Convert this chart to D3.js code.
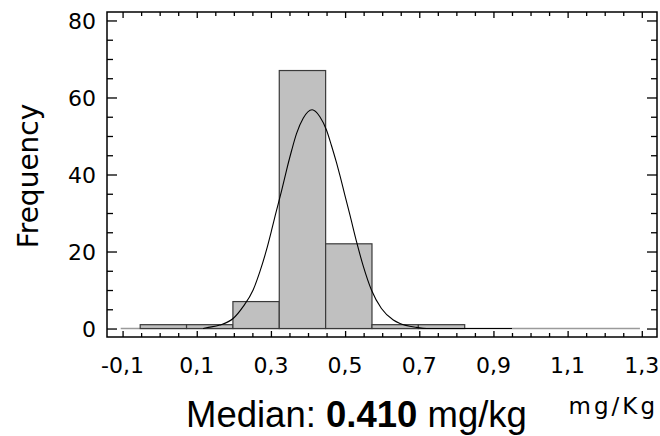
<!DOCTYPE html>
<html>
<head>
<meta charset="utf-8">
<script src="https://cdn.jsdelivr.net/npm/d3@7"></script>
<style>
  body { margin: 0; background: #fff; }
  svg { display: block; }
</style>
</head>
<body>
<svg id="chart" width="660" height="436"></svg>
<script>
// histogram bins (left edge, mg/Kg) and counts
const binStarts = [-0.0525, 0.0725, 0.1975, 0.3225, 0.4475, 0.5725, 0.6975];
const binCounts = [1, 1, 7, 67, 22, 1, 1];
const binWidth = 0.125;
// empty part of the histogram range (drawn as flat line)
const emptyRange = [-0.105, 1.295];

// fitted curve
const curveX = [0.117, 0.126, 0.162, 0.198, 0.225, 0.252, 0.270, 0.288, 0.302, 0.312, 0.329, 0.342,
                0.356, 0.369, 0.387, 0.411, 0.432, 0.450, 0.463, 0.477, 0.486, 0.499, 0.513, 0.531,
                0.549, 0.571, 0.598, 0.630, 0.648, 0.693, 0.72, 0.95];
const curveY = [0.0, 0.2, 0.9, 2.6, 5.7, 10.0, 14.7, 20.4, 25.6, 29.5, 35.9, 41.1,
                46.3, 50.6, 54.6, 56.8, 55.0, 51.5, 47.6, 43.0, 39.8, 34.8, 29.5, 22.5,
                16.2, 10.0, 5.2, 2.2, 1.3, 0.3, 0.0, 0.0];

const xMajor = [-0.1, 0.1, 0.3, 0.5, 0.7, 0.9, 1.1, 1.3];
const xLabels = ["-0,1", "0,1", "0,3", "0,5", "0,7", "0,9", "1,1", "1,3"];
const yMajor = [0, 20, 40, 60, 80];

const svg = d3.select("#chart");
const plotLeft = 107, plotRight = 657, plotTop = 12, plotBottom = 337;

const x = d3.scaleLinear().domain([-0.142, 1.341]).range([plotLeft, plotRight]);
const y = d3.scaleLinear().domain([-2.2, 82.2]).range([plotBottom, plotTop]);

const xMinor = d3.range(0, 29).map(i => -0.1 + i * 0.05);
const yMinor = d3.range(0, 17).map(i => i * 5);

// empty range baseline
svg.append("line")
    .attr("x1", x(emptyRange[0]))
    .attr("x2", x(emptyRange[1]))
    .attr("y1", y(0))
    .attr("y2", y(0))
    .style("stroke", "#9a9a9a")
    .style("stroke-width", 1.5);

// bars
svg.selectAll("rect.bar")
    .data(binStarts)
    .enter()
    .append("rect")
    .attr("class", "bar")
    .attr("x", d => x(d))
    .attr("y", (d, i) => y(binCounts[i]))
    .attr("width", d => x(d + binWidth) - x(d))
    .attr("height", (d, i) => y(0) - y(binCounts[i]))
    .attr("fill", "#c0c0c0")
    .attr("stroke", "#3a3a3a")
    .attr("stroke-width", 1.2);

// curve
const line = d3.line()
    .x(d => x(d[0]))
    .y(d => y(d[1]))
    .curve(d3.curveMonotoneX);
svg.append("path")
    .datum(curveX.map((v, i) => [v, curveY[i]]))
    .attr("d", line)
    .attr("fill", "none")
    .attr("stroke", "#000")
    .attr("stroke-width", 1.1);

// frame
svg.append("rect")
    .attr("x", plotLeft)
    .attr("y", plotTop)
    .attr("width", plotRight - plotLeft)
    .attr("height", plotBottom - plotTop)
    .attr("fill", "none")
    .attr("stroke", "#000")
    .attr("stroke-width", 1.5);

// ticks (all pointing inward)
const isMajorX = v => xMajor.some(m => Math.abs(m - v) < 1e-6);
const isMajorY = v => yMajor.includes(v);

const gB = svg.append("g").attr("transform", `translate(0,${plotBottom})`)
    .call(d3.axisBottom(x).tickValues(xMinor).tickSizeOuter(0).tickFormat(""));
gB.selectAll(".tick line").attr("y2", d => isMajorX(d) ? -6 : -4);

const gT = svg.append("g").attr("transform", `translate(0,${plotTop})`)
    .call(d3.axisTop(x).tickValues(xMinor).tickSizeOuter(0).tickFormat(""));
gT.selectAll(".tick line").attr("y2", d => isMajorX(d) ? 6 : 4);

const gL = svg.append("g").attr("transform", `translate(${plotLeft},0)`)
    .call(d3.axisLeft(y).tickValues(yMinor).tickSizeOuter(0).tickFormat(""));
gL.selectAll(".tick line").attr("x2", d => isMajorY(d) ? 10 : 6);

const gR = svg.append("g").attr("transform", `translate(${plotRight},0)`)
    .call(d3.axisRight(y).tickValues(yMinor).tickSizeOuter(0).tickFormat(""));
gR.selectAll(".tick line").attr("x2", d => isMajorY(d) ? -10 : -6);

svg.selectAll(".domain").remove();
svg.selectAll(".tick line").attr("stroke", "#000").attr("stroke-width", 1.3);

// tick labels
const labelFont = "'DejaVu Sans', sans-serif";
svg.selectAll("text.xl")
    .data(xMajor)
    .enter()
    .append("text")
    .attr("class", "xl")
    .attr("x", d => x(d))
    .attr("y", 373)
    .attr("text-anchor", "middle")
    .style("font-family", labelFont)
    .style("font-size", "22px")
    .text((d, i) => xLabels[i]);

svg.selectAll("text.yl")
    .data(yMajor)
    .enter()
    .append("text")
    .attr("class", "yl")
    .attr("x", 96)
    .attr("y", d => y(d) + 8.5)
    .attr("text-anchor", "end")
    .style("font-family", labelFont)
    .style("font-size", "22px")
    .text(d => d);

// axis titles
svg.append("text")
    .attr("transform", "translate(38,176) rotate(-90)")
    .attr("text-anchor", "middle")
    .style("font-family", labelFont)
    .style("font-size", "28px")
    .text("Frequency");

svg.append("text")
    .attr("x", 658)
    .attr("y", 414)
    .attr("text-anchor", "end")
    .style("font-family", labelFont)
    .style("font-size", "23px")
    .style("letter-spacing", "3px")
    .text("mg/Kg");

const med = svg.append("text")
    .attr("x", 186)
    .attr("y", 427)
    .style("font-family", "'Liberation Sans', Arial, sans-serif")
    .style("font-size", "36.5px");
med.append("tspan").text("Median: ");
med.append("tspan").style("font-weight", "bold").text("0.410");
med.append("tspan").text(" mg/kg");
</script>
</body>
</html>
